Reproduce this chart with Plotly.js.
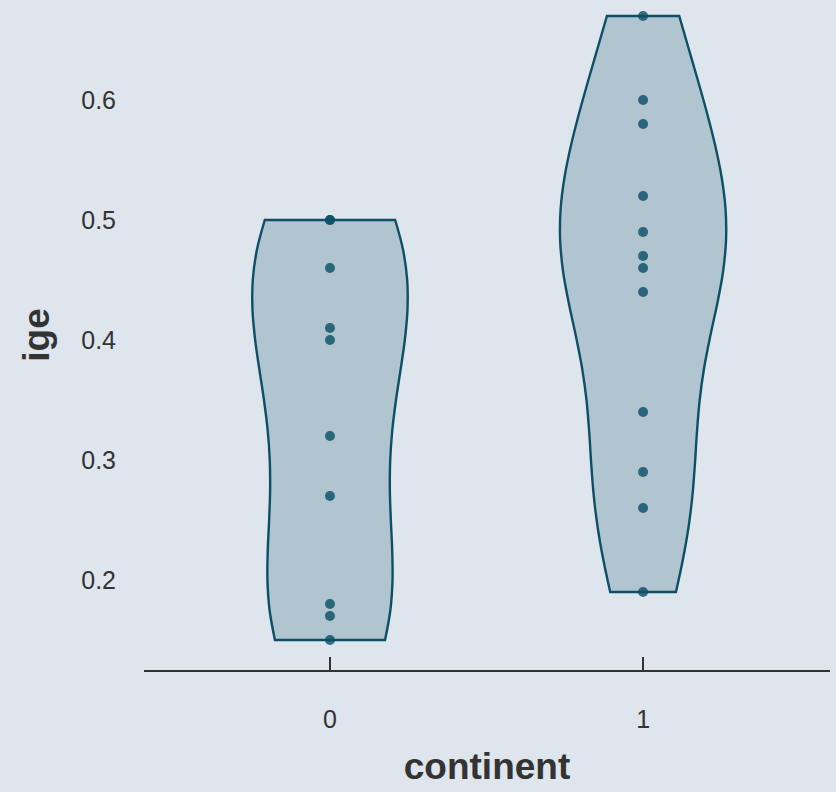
<!DOCTYPE html>
<html>
<head>
<meta charset="utf-8">
<script src="https://cdn.plot.ly/plotly-3.0.1.min.js"></script>
<style>html,body{margin:0;padding:0;background:#dee5ec;}</style>
</head>
<body>
<div id="chart" style="width:836px;height:792px;"></div>
<script>
// Data
const categories = ['0', '1'];
const ige0 = [0.50, 0.50, 0.46, 0.41, 0.40, 0.32, 0.27, 0.18, 0.17, 0.15];
const ige1 = [0.67, 0.60, 0.58, 0.52, 0.49, 0.47, 0.46, 0.44, 0.34, 0.29, 0.26, 0.19];
const yTicks = [0.2, 0.3, 0.4, 0.5, 0.6];
const xTitle = 'continent';
const yTitle = 'ige';

// Style
const violinWidths = [0.495, 0.53];
const fillCol = '#b0c5cf';
const lineCol = '#0c4f66';
const dotCol = 'rgba(12,79,102,0.82)';

// bw.nrd0 (R default used by ggplot2 violins)
function quantile(sorted, p) {
  const h = (sorted.length - 1) * p;
  const lo = Math.floor(h), hi = Math.ceil(h);
  return sorted[lo] + (h - lo) * (sorted[hi] - sorted[lo]);
}
function nrd0(arr) {
  const n = arr.length;
  const mean = arr.reduce((a, b) => a + b, 0) / n;
  const sd = Math.sqrt(arr.reduce((a, b) => a + (b - mean) * (b - mean), 0) / (n - 1));
  const s = arr.slice().sort((a, b) => a - b);
  const iqr = quantile(s, 0.75) - quantile(s, 0.25);
  let lo = Math.min(sd, iqr / 1.34);
  if (!(lo > 0)) lo = sd || Math.abs(s[0]) || 1;
  return 0.9 * lo * Math.pow(n, -0.2);
}

const groups = [ige0, ige1];
const traces = groups.map((vals, i) => ({
  type: 'violin',
  x: vals.map(() => categories[i]),
  y: vals,
  name: categories[i],
  points: 'all',
  pointpos: 0,
  jitter: 0,
  spanmode: 'hard',
  bandwidth: nrd0(vals),
  scalemode: 'width',
  width: violinWidths[i],
  fillcolor: fillCol,
  line: {color: lineCol, width: 2.4},
  marker: {color: dotCol, size: 10, line: {width: 0}},
  box: {visible: false},
  meanline: {visible: false},
  hoverinfo: 'skip',
  showlegend: false
}));

const layout = {
  width: 836,
  height: 792,
  paper_bgcolor: '#dee5ec',
  plot_bgcolor: '#dee5ec',
  margin: {l: 144, r: 6, t: 0, b: 122},
  violinmode: 'overlay',
  showlegend: false,
  font: {family: '"Liberation Sans", Arial, sans-serif', color: '#333333'},
  xaxis: {
    type: 'category',
    categoryorder: 'array',
    categoryarray: categories,
    range: [-0.594, 1.597],
    showline: true,
    linecolor: '#333333',
    linewidth: 2,
    ticks: 'inside',
    ticklen: 13,
    tickwidth: 2,
    tickcolor: '#333333',
    showgrid: false,
    zeroline: false,
    ticklabelstandoff: 26,
    tickfont: {size: 25, color: '#333333'},
    automargin: false,
    title: {text: xTitle, font: {size: 37, weight: 'bold', color: '#333333'}, standoff: 21}
  },
  yaxis: {
    range: [0.125, 0.68333],
    tickvals: yTicks,
    ticktext: yTicks.map(v => v.toFixed(1)),
    showline: false,
    showgrid: false,
    zeroline: false,
    ticks: '',
    ticklabelstandoff: 27,
    tickfont: {size: 25, color: '#333333'},
    automargin: false,
    title: {text: yTitle, font: {size: 37, weight: 'bold', color: '#333333'}, standoff: 20}
  }
};

Plotly.newPlot('chart', traces, layout, {displayModeBar: false, staticPlot: true});
</script>
</body>
</html>
